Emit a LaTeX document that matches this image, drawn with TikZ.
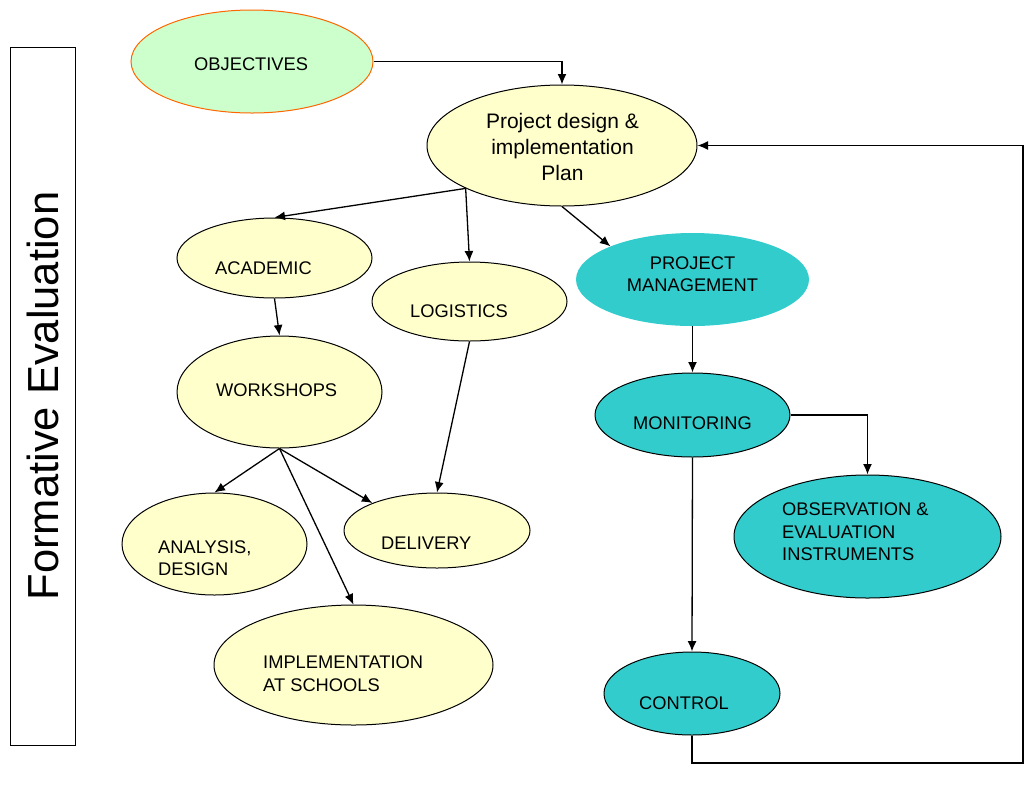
\documentclass[tikz,border=0pt]{standalone}
\usepackage{fontspec}
\setmainfont{Liberation Sans}
\usetikzlibrary{shapes.geometric,arrows.meta}
\definecolor{paleyellow}{HTML}{FFFFCC}
\definecolor{teal}{HTML}{33CCCC}
\definecolor{palegreen}{HTML}{CCFFCC}
\definecolor{outlineorange}{HTML}{FF6600}
\tikzset{
  bubble/.style={ellipse, inner sep=0pt, draw=black, line width=1pt},
  yellowbubble/.style={bubble, fill=paleyellow},
  tealbubble/.style={bubble, fill=teal},
  lbl/.style={inner sep=0pt, anchor=west, align=left, font=\fontsize{18.3}{22.5}\selectfont},
  conn/.style={line width=1.3pt, -{Latex[length=10.5pt,width=9pt]}},
}
\begin{document}
\begin{tikzpicture}[x=1pt, y=-1pt]
\useasboundingbox (0,0) rectangle (1028,788);

% side banner
\node[draw, line width=1pt, rotate=90, minimum width=698pt, minimum height=65pt,
      inner sep=0pt, font=\fontsize{43.5}{50}\selectfont] (fe) at (42.5,396) {Formative Evaluation};

% shapes
\node[bubble, fill=palegreen, draw=outlineorange, minimum width=242pt, minimum height=103pt] (obj) at (252,61.5) {};
\node[yellowbubble, minimum width=270pt, minimum height=121pt] (pd) at (562,145.5) {};
\node[yellowbubble, minimum width=195pt, minimum height=80pt] (acad) at (274.5,258) {};
\node[yellowbubble, minimum width=195pt, minimum height=79pt] (logi) at (469.5,301.5) {};
\node[yellowbubble, minimum width=205pt, minimum height=112pt] (ws) at (279.5,392) {};
\node[yellowbubble, minimum width=185pt, minimum height=102pt] (anal) at (214.5,544) {};
\node[yellowbubble, minimum width=186pt, minimum height=75pt] (deliv) at (437,530.5) {};
\node[yellowbubble, minimum width=279pt, minimum height=120pt] (impl) at (353.5,665) {};
\node[ellipse, inner sep=0pt, fill=teal, minimum width=233pt, minimum height=93pt] (pm) at (692.5,279.5) {};
\node[tealbubble, minimum width=195pt, minimum height=84pt] (mon) at (692.5,415) {};
\node[tealbubble, minimum width=267pt, minimum height=123pt] (obs) at (867.5,536.5) {};
\node[tealbubble, minimum width=176pt, minimum height=83pt] (ctrl) at (692,693.5) {};

% texts
\node[lbl] (tobj) at (194,64) {OBJECTIVES};
\node[inner sep=0pt, align=center, font=\fontsize{21}{26}\selectfont] (tpd) at (562.5,147) {Project design \&\\implementation\\Plan};
\node[lbl] (tacad) at (215,268) {ACADEMIC};
\node[lbl] (tlogi) at (410,311) {LOGISTICS};
\node[lbl] (tws) at (216,390) {WORKSHOPS};
\node[lbl] (tanal) at (158,558) {ANALYSIS,\\DESIGN};
\node[lbl] (tdeliv) at (381,543) {DELIVERY};
\node[lbl] (timpl) at (263,673.5) {IMPLEMENTATION\\AT SCHOOLS};
\node[inner sep=0pt, align=center, font=\fontsize{18.3}{22}\selectfont] (tpm) at (692.5,274) {PROJECT\\MANAGEMENT};
\node[lbl] (tmon) at (633,423) {MONITORING};
\node[lbl] (tobs) at (782,532) {OBSERVATION \&\\EVALUATION\\INSTRUMENTS};
\node[lbl] (tctrl) at (639,703) {CONTROL};

% connectors
\draw[conn] (obj.east) -| (pd.north);
\draw[conn] (pd.204) -- (acad.north);
\draw[conn] (pd.204) -- (logi.north);
\draw[conn] (pd.south) -- (pm.158);
\draw[conn] (acad.south) -- (ws.north);
\draw[conn] (ws.south) -- (anal.north);
\draw[conn] (ws.south) -- (deliv.157);
\draw[conn] (ws.south) -- (impl.north);
\draw[conn] (logi.south) -- (deliv.north);
\draw[conn] (pm.south) -- (mon.north);
\draw[conn] (mon.east) -| (obs.north);
\draw[conn] (mon.south) -- (ctrl.north);
\coordinate (loop) at (1023,763);
\draw[conn] (ctrl.south) |- (loop) |- (pd.east);
\end{tikzpicture}
\end{document}
